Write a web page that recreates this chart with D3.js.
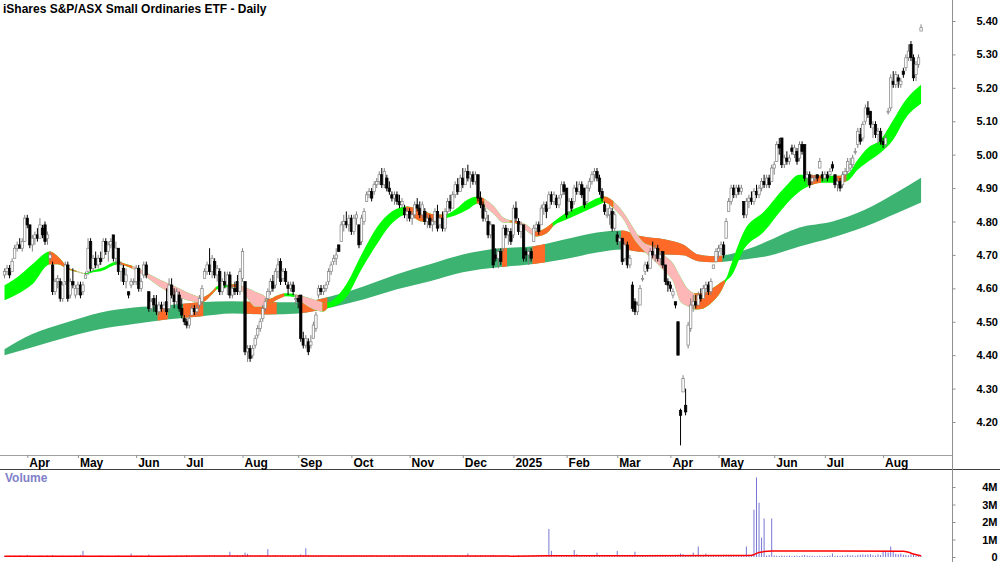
<!DOCTYPE html>
<html>
<head>
<meta charset="utf-8">
<script src="https://cdn.jsdelivr.net/npm/d3@7"></script>
<style>
  body { margin: 0; background: #fff; }
  svg { display: block; font-family: "Liberation Sans", Arial, sans-serif; }
</style>
</head>
<body>
<svg id="chart"></svg>
<script>
// month ticks (index of first trading day in month)
const monthIdx = [9, 29, 52, 71, 94, 116, 137, 160, 181, 201, 222, 242, 263, 282, 304, 324, 347];
const monthLabels = ['Apr','May','Jun','Jul','Aug','Sep','Oct','Nov','Dec','2025','Feb','Mar','Apr','May','Jun','Jul','Aug'];
const priceTicks = [5.4, 5.3, 5.2, 5.1, 5.0, 4.9, 4.8, 4.7, 4.6, 4.5, 4.4, 4.3, 4.2];
const volTicks = [0, 1e6, 2e6, 3e6, 4e6];

// daily candles [open, high, low, close]
const candles = [
[4.64,4.66,4.63,4.65],[4.65,4.67,4.64,4.66],[4.66,4.67,4.63,4.64],[4.65,4.69,4.65,4.68],[4.69,4.73,4.69,4.72],
[4.72,4.74,4.71,4.73],[4.73,4.75,4.72,4.72],[4.72,4.75,4.71,4.74],[4.74,4.82,4.74,4.81],[4.81,4.82,4.78,4.79],
[4.79,4.79,4.72,4.73],[4.73,4.76,4.71,4.75],[4.75,4.77,4.73,4.76],[4.76,4.78,4.74,4.75],[4.75,4.81,4.75,4.79],
[4.78,4.79,4.75,4.76],[4.79,4.80,4.73,4.74],[4.75,4.77,4.73,4.76],[4.69,4.71,4.68,4.70],[4.67,4.68,4.58,4.59],
[4.59,4.63,4.58,4.62],[4.62,4.64,4.60,4.63],[4.62,4.63,4.56,4.57],[4.57,4.62,4.56,4.61],[4.62,4.68,4.61,4.67],
[4.67,4.68,4.56,4.57],[4.58,4.63,4.57,4.62],[4.62,4.66,4.60,4.61],[4.58,4.61,4.57,4.60],[4.60,4.62,4.58,4.61],
[4.61,4.62,4.57,4.58],[4.59,4.62,4.58,4.61],[4.63,4.65,4.63,4.64],[4.65,4.75,4.64,4.72],[4.74,4.75,4.65,4.66],
[4.66,4.70,4.65,4.69],[4.69,4.71,4.66,4.67],[4.67,4.70,4.66,4.69],[4.69,4.71,4.67,4.68],[4.69,4.75,4.69,4.74],
[4.74,4.75,4.70,4.71],[4.71,4.74,4.68,4.73],[4.73,4.75,4.72,4.74],[4.76,4.76,4.68,4.69],[4.69,4.74,4.67,4.72],
[4.72,4.72,4.64,4.65],[4.65,4.68,4.62,4.67],[4.66,4.67,4.61,4.62],[4.62,4.66,4.60,4.64],[4.59,4.59,4.57,4.58],
[4.61,4.63,4.60,4.62],[4.62,4.63,4.61,4.62],[4.62,4.67,4.61,4.66],[4.66,4.67,4.59,4.60],[4.60,4.63,4.59,4.62],
[4.64,4.68,4.63,4.67],[4.67,4.68,4.63,4.64],[4.59,4.59,4.53,4.54],[4.54,4.57,4.53,4.56],[4.57,4.58,4.53,4.55],
[4.55,4.58,4.52,4.53],[4.53,4.56,4.52,4.55],[4.55,4.56,4.53,4.54],[4.54,4.56,4.53,4.55],[4.56,4.60,4.52,4.53],
[4.54,4.63,4.53,4.61],[4.61,4.63,4.57,4.58],[4.58,4.60,4.54,4.56],[4.56,4.60,4.55,4.59],[4.58,4.59,4.53,4.54],
[4.54,4.57,4.51,4.52],[4.51,4.52,4.49,4.50],[4.50,4.51,4.48,4.49],[4.49,4.52,4.48,4.51],[4.52,4.55,4.52,4.54],
[4.54,4.55,4.52,4.53],[4.53,4.55,4.52,4.54],[4.55,4.58,4.54,4.57],[4.56,4.61,4.55,4.60],[4.63,4.66,4.63,4.65],
[4.65,4.68,4.64,4.67],[4.67,4.72,4.64,4.65],[4.65,4.70,4.63,4.69],[4.68,4.69,4.63,4.64],[4.64,4.67,4.62,4.66],
[4.65,4.66,4.58,4.59],[4.59,4.63,4.58,4.62],[4.62,4.65,4.60,4.61],[4.61,4.65,4.58,4.64],[4.64,4.65,4.57,4.58],
[4.58,4.61,4.57,4.60],[4.60,4.62,4.58,4.59],[4.62,4.64,4.58,4.59],[4.59,4.66,4.58,4.65],[4.63,4.72,4.62,4.71],
[4.62,4.62,4.40,4.41],[4.41,4.43,4.38,4.42],[4.42,4.43,4.38,4.39],[4.40,4.43,4.39,4.42],[4.43,4.46,4.42,4.45],
[4.46,4.49,4.45,4.48],[4.48,4.51,4.47,4.50],[4.51,4.55,4.50,4.54],[4.54,4.57,4.53,4.56],[4.57,4.60,4.56,4.59],
[4.59,4.63,4.58,4.62],[4.62,4.64,4.59,4.60],[4.61,4.66,4.60,4.65],[4.65,4.69,4.63,4.67],[4.68,4.69,4.61,4.62],
[4.63,4.66,4.62,4.65],[4.65,4.66,4.61,4.62],[4.61,4.62,4.58,4.60],[4.60,4.62,4.59,4.61],[4.61,4.62,4.58,4.59],
[4.57,4.58,4.55,4.57],[4.57,4.58,4.54,4.56],[4.58,4.58,4.44,4.45],[4.45,4.47,4.42,4.43],[4.43,4.46,4.42,4.45],
[4.44,4.45,4.40,4.41],[4.43,4.46,4.42,4.44],[4.45,4.50,4.45,4.49],[4.48,4.53,4.47,4.52],[4.58,4.61,4.57,4.60],
[4.60,4.61,4.58,4.59],[4.59,4.61,4.58,4.60],[4.60,4.62,4.59,4.61],[4.62,4.66,4.61,4.65],[4.65,4.68,4.64,4.67],
[4.68,4.70,4.67,4.69],[4.69,4.72,4.67,4.70],[4.73,4.73,4.71,4.71],[4.74,4.80,4.74,4.79],[4.79,4.82,4.77,4.80],
[4.80,4.83,4.78,4.79],[4.79,4.82,4.77,4.81],[4.81,4.82,4.76,4.77],[4.77,4.82,4.76,4.81],[4.81,4.83,4.79,4.82],
[4.79,4.79,4.72,4.73],[4.74,4.82,4.73,4.81],[4.80,4.84,4.79,4.83],[4.86,4.89,4.86,4.88],[4.88,4.90,4.87,4.89],
[4.89,4.90,4.86,4.87],[4.89,4.92,4.88,4.91],[4.91,4.93,4.90,4.92],[4.92,4.95,4.91,4.94],[4.94,4.96,4.90,4.91],
[4.91,4.96,4.90,4.95],[4.93,4.94,4.89,4.90],[4.90,4.92,4.88,4.89],[4.88,4.89,4.86,4.87],[4.87,4.89,4.85,4.88],
[4.88,4.89,4.85,4.86],[4.86,4.88,4.84,4.85],[4.85,4.87,4.84,4.86],[4.84,4.85,4.81,4.82],[4.82,4.84,4.80,4.83],
[4.83,4.84,4.80,4.81],[4.81,4.83,4.79,4.82],[4.82,4.86,4.81,4.85],[4.85,4.87,4.83,4.84],[4.84,4.86,4.81,4.82],
[4.82,4.86,4.81,4.85],[4.83,4.84,4.79,4.80],[4.80,4.82,4.78,4.81],[4.81,4.82,4.78,4.79],[4.79,4.81,4.77,4.80],
[4.80,4.84,4.79,4.83],[4.83,4.85,4.77,4.78],[4.79,4.82,4.78,4.81],[4.81,4.83,4.77,4.78],[4.78,4.84,4.77,4.83],
[4.83,4.87,4.82,4.86],[4.86,4.88,4.83,4.84],[4.84,4.89,4.84,4.88],[4.88,4.92,4.87,4.91],[4.91,4.93,4.88,4.89],
[4.89,4.94,4.89,4.93],[4.93,4.96,4.90,4.91],[4.91,4.96,4.91,4.95],[4.95,4.97,4.92,4.93],[4.93,4.95,4.90,4.94],
[4.94,4.95,4.91,4.92],[4.92,4.95,4.91,4.94],[4.94,4.94,4.86,4.87],[4.87,4.89,4.84,4.85],[4.85,4.86,4.80,4.81],
[4.81,4.84,4.80,4.83],[4.80,4.82,4.75,4.76],[4.76,4.80,4.75,4.79],[4.79,4.79,4.66,4.67],[4.70,4.72,4.68,4.69],
[4.69,4.72,4.66,4.71],[4.71,4.72,4.67,4.68],[4.72,4.79,4.71,4.78],[4.78,4.79,4.75,4.76],[4.76,4.78,4.73,4.77],
[4.77,4.78,4.73,4.74],[4.76,4.85,4.75,4.84],[4.84,4.86,4.80,4.81],[4.80,4.81,4.76,4.77],[4.77,4.80,4.75,4.79],
[4.79,4.79,4.68,4.69],[4.71,4.72,4.68,4.70],[4.70,4.72,4.67,4.71],[4.71,4.72,4.68,4.69],[4.74,4.79,4.74,4.78],
[4.78,4.80,4.77,4.79],[4.79,4.80,4.76,4.77],[4.79,4.85,4.79,4.84],[4.84,4.86,4.82,4.85],[4.85,4.86,4.81,4.83],
[4.84,4.89,4.84,4.88],[4.88,4.89,4.85,4.86],[4.86,4.89,4.85,4.88],[4.87,4.88,4.84,4.85],[4.85,4.88,4.84,4.87],
[4.88,4.92,4.87,4.91],[4.91,4.92,4.88,4.89],[4.90,4.90,4.81,4.82],[4.83,4.87,4.82,4.86],[4.86,4.87,4.83,4.84],
[4.86,4.91,4.85,4.90],[4.90,4.92,4.88,4.89],[4.89,4.92,4.88,4.91],[4.91,4.92,4.87,4.88],[4.90,4.90,4.84,4.85],
[4.86,4.91,4.85,4.90],[4.90,4.93,4.89,4.92],[4.92,4.95,4.91,4.94],[4.94,4.96,4.92,4.95],[4.95,4.96,4.92,4.93],
[4.93,4.94,4.88,4.89],[4.89,4.90,4.86,4.87],[4.85,4.86,4.82,4.83],[4.82,4.84,4.81,4.82],[4.82,4.85,4.79,4.84],
[4.83,4.84,4.77,4.78],[4.78,4.83,4.77,4.82],[4.76,4.77,4.73,4.74],[4.74,4.76,4.72,4.75],[4.75,4.75,4.67,4.68],
[4.69,4.74,4.68,4.73],[4.73,4.74,4.66,4.67],[4.67,4.70,4.66,4.69],[4.61,4.62,4.53,4.54],[4.56,4.57,4.52,4.53],
[4.53,4.56,4.52,4.55],[4.55,4.61,4.55,4.60],[4.63,4.64,4.62,4.63],[4.65,4.68,4.64,4.67],[4.67,4.68,4.65,4.66],
[4.66,4.72,4.66,4.71],[4.71,4.74,4.69,4.70],[4.70,4.73,4.68,4.72],[4.72,4.73,4.68,4.69],[4.69,4.71,4.67,4.70],
[4.71,4.71,4.66,4.67],[4.67,4.67,4.61,4.62],[4.62,4.63,4.59,4.61],[4.61,4.62,4.59,4.60],[4.58,4.60,4.57,4.59],
[4.56,4.56,4.54,4.55],[4.50,4.50,4.40,4.40],[4.235,4.24,4.13,4.22],[4.29,4.34,4.29,4.33],[4.25,4.30,4.22,4.23],
[4.43,4.50,4.42,4.49],[4.48,4.57,4.47,4.55],[4.55,4.58,4.53,4.56],[4.56,4.58,4.54,4.55],[4.55,4.59,4.55,4.58],
[4.58,4.60,4.56,4.57],[4.57,4.61,4.57,4.60],[4.60,4.62,4.58,4.61],[4.61,4.62,4.58,4.59],[4.59,4.63,4.58,4.62],
[4.66,4.67,4.66,4.67],[4.68,4.72,4.68,4.71],[4.71,4.73,4.69,4.72],[4.72,4.74,4.70,4.73],[4.73,4.74,4.69,4.70],
[4.75,4.81,4.75,4.80],[4.83,4.87,4.83,4.86],[4.86,4.91,4.85,4.90],[4.90,4.91,4.87,4.88],[4.88,4.91,4.87,4.90],
[4.90,4.91,4.88,4.89],[4.89,4.91,4.88,4.90],[4.86,4.86,4.81,4.82],[4.82,4.87,4.81,4.86],[4.86,4.88,4.84,4.87],
[4.87,4.89,4.85,4.86],[4.86,4.90,4.85,4.89],[4.89,4.91,4.87,4.88],[4.88,4.91,4.87,4.90],[4.90,4.93,4.89,4.92],
[4.92,4.94,4.90,4.91],[4.91,4.94,4.90,4.93],[4.93,4.94,4.90,4.91],[4.92,4.97,4.92,4.96],[4.96,4.98,4.94,4.97],
[4.98,5.04,4.98,5.03],[5.03,5.05,5.00,5.02],[5.05,5.05,4.96,4.97],[4.97,5.00,4.96,4.99],[4.99,5.01,4.97,4.98],
[4.98,5.00,4.97,4.99],[5.02,5.03,5.00,5.01],[5.00,5.03,4.99,5.02],[5.01,5.02,4.97,4.98],[4.99,5.04,4.98,5.03],
[5.03,5.04,5.00,5.01],[5.03,5.03,4.92,4.93],[4.93,4.95,4.91,4.94],[4.94,4.95,4.90,4.91],[4.92,4.94,4.91,4.93],
[4.93,4.94,4.92,4.93],[4.94,4.94,4.92,4.93],[4.96,4.99,4.96,4.98],[4.94,4.95,4.92,4.93],[4.93,4.95,4.92,4.94],
[4.94,4.95,4.92,4.93],[4.94,4.96,4.93,4.95],[4.97,4.98,4.95,4.96],[4.94,4.94,4.90,4.91],[4.91,4.93,4.89,4.92],
[4.92,4.93,4.89,4.90],[4.91,4.95,4.90,4.94],[4.94,4.96,4.92,4.95],[4.95,4.99,4.94,4.98],[4.96,4.99,4.95,4.97],
[4.97,5.00,4.96,4.99],[5.01,5.02,5.00,5.01],[5.03,5.08,5.02,5.07],[5.06,5.08,5.03,5.04],[5.05,5.10,5.04,5.09],
[5.10,5.15,5.09,5.14],[5.14,5.16,5.11,5.12],[5.13,5.13,5.08,5.09],[5.08,5.10,5.05,5.09],[5.09,5.10,5.05,5.06],
[5.06,5.08,5.03,5.07],[5.07,5.08,5.03,5.04],[5.04,5.05,5.02,5.03],[5.03,5.06,5.02,5.05],[5.13,5.14,5.12,5.13],
[5.14,5.24,5.13,5.23],[5.22,5.25,5.20,5.21],[5.21,5.25,5.20,5.24],[5.23,5.24,5.20,5.22],[5.21,5.23,5.20,5.22],
[5.25,5.26,5.23,5.24],[5.26,5.30,5.25,5.29],[5.29,5.33,5.28,5.31],[5.33,5.34,5.28,5.29],[5.29,5.30,5.22,5.23],
[5.24,5.28,5.22,5.27],[5.27,5.30,5.26,5.29],[5.37,5.39,5.37,5.38]
];

// daily volume, thousands of units
const volumes = [
60,45,80,55,70,40,95,50,65,120,75,50,60,45,85,70,55,90,60,110,
70,55,65,80,50,60,75,45,90,65,120,350,80,60,70,55,45,65,100,70,
55,80,60,45,70,95,60,50,75,65,200,55,70,60,85,45,60,150,70,55,
65,80,50,70,60,90,55,45,75,60,80,65,110,70,55,60,85,50,70,65,
60,75,55,90,70,50,65,80,60,300,70,55,85,60,120,250,180,90,70,60,
65,80,55,70,450,60,75,90,55,65,80,60,70,50,65,85,60,150,95,500,
120,80,65,70,55,90,60,75,65,80,50,70,60,85,55,65,75,60,90,70,
80,55,65,70,60,85,50,75,65,60,70,55,80,60,90,65,55,70,60,75,
65,80,55,70,60,85,70,55,65,90,60,75,55,70,80,60,65,55,85,70,
60,75,65,200,70,55,80,60,90,65,70,55,85,120,70,60,75,65,80,55,
60,70,55,100,65,80,60,75,55,70,65,90,60,70,80,1600,350,70,60,75,
65,80,60,70,55,400,150,65,70,60,80,55,75,60,250,70,65,90,60,75,
55,70,350,80,65,70,90,60,75,300,85,70,60,75,65,80,60,70,90,65,
75,60,85,70,65,90,120,200,150,110,95,80,250,70,600,90,65,200,80,70,
60,75,65,90,70,55,80,65,75,60,85,70,100,600,80,70,2700,4550,3100,1100,
2200,80,120,2200,90,75,60,85,70,65,80,55,70,75,60,90,110,80,65,70,
55,60,75,50,65,70,80,200,60,75,65,90,70,120,85,95,70,110,130,150,
120,140,160,100,80,150,110,350,300,250,600,300,180,150,200,130,110,90,150,120,
80,100,60
];

// volume average, read at sample days (millions)
const volMaIdx = [0, 60, 120, 200, 215, 250, 292, 294, 296, 297, 298, 299, 300, 303, 320, 355, 357, 359, 361, 362];
const volMaVal = [0.04, 0.05, 0.06, 0.05, 0.07, 0.07, 0.08, 0.09, 0.13, 0.21, 0.26, 0.28, 0.31, 0.34, 0.34, 0.33, 0.27, 0.17, 0.10, 0.07];

// short-term ribbon edges, read at sample days
const shortIdx = [0,5,11,18,21,25,29,32,35,38,45,47,51,55,61,68,74,78,82,84,88,91,94,96,99,103,104,108,111,115,118,122,126,128,130,135,141,147,153,159,165,170,174,178,183,187,190,193,197,200,203,206,210,214,217,222,229,235,237,241,245,248,252,256,261,264,267,270,273,276,279,283,285,287,292,300,308,314,318,323,329,333,337,341,346,351,356,362];
const shortHi = [4.609,4.633,4.672,4.710,4.696,4.663,4.651,4.645,4.654,4.660,4.681,4.675,4.666,4.651,4.627,4.603,4.582,4.573,4.591,4.606,4.612,4.612,4.606,4.600,4.590,4.575,4.567,4.579,4.585,4.582,4.576,4.567,4.558,4.558,4.567,4.612,4.701,4.782,4.830,4.845,4.833,4.821,4.821,4.836,4.866,4.875,4.866,4.848,4.812,4.803,4.800,4.791,4.770,4.782,4.800,4.827,4.851,4.872,4.875,4.857,4.821,4.785,4.740,4.725,4.696,4.675,4.633,4.597,4.585,4.585,4.597,4.618,4.630,4.672,4.770,4.830,4.901,4.940,4.940,4.937,4.937,4.943,4.985,5.021,5.045,5.104,5.164,5.209];
const shortLo = [4.564,4.582,4.612,4.672,4.672,4.657,4.648,4.642,4.648,4.651,4.672,4.669,4.657,4.639,4.606,4.576,4.561,4.558,4.582,4.597,4.603,4.603,4.591,4.570,4.545,4.545,4.549,4.567,4.576,4.573,4.555,4.537,4.531,4.543,4.546,4.573,4.657,4.731,4.794,4.821,4.800,4.800,4.809,4.818,4.836,4.854,4.842,4.824,4.797,4.797,4.791,4.773,4.755,4.764,4.788,4.806,4.830,4.851,4.857,4.836,4.800,4.755,4.716,4.687,4.648,4.622,4.560,4.546,4.537,4.540,4.555,4.591,4.621,4.636,4.716,4.770,4.845,4.890,4.907,4.916,4.916,4.922,4.955,4.979,5.006,5.045,5.110,5.152];
const shortMixed = [[18,28],[45,50],[78,83],[90,93],[104,110],[126,127],[159,173],[187,189],[200,202],[210,216],[237,240],[273,284],[318,322],[329,332]];
const shortDown = [[29,31],[51,77],[94,103],[115,125],[190,199],[203,209],[241,272]];

// long-term ribbon edges, read at sample days
const longIdx = [0,11,25,38,51,64,77,90,104,116,129,142,155,168,181,195,208,221,234,244,250,261,268,274,280,286,293,301,314,327,340,353,362];
const longHi = [4.418,4.463,4.499,4.528,4.543,4.549,4.558,4.561,4.558,4.558,4.576,4.606,4.642,4.672,4.701,4.719,4.725,4.746,4.767,4.773,4.758,4.746,4.731,4.701,4.696,4.701,4.716,4.740,4.782,4.800,4.836,4.890,4.931];
const longLo = [4.400,4.424,4.454,4.478,4.493,4.507,4.516,4.525,4.522,4.525,4.543,4.567,4.597,4.621,4.648,4.663,4.672,4.687,4.707,4.716,4.710,4.701,4.699,4.681,4.678,4.681,4.687,4.696,4.725,4.752,4.785,4.827,4.857];
const longMixed = [[61,64],[71,78],[95,107],[117,127],[197,198],[209,213],[244,283]];

class RibbonChart {
    constructor(_config) {
        this.config = {
            parentElement: _config.parentElement,
            containerWidth: _config.containerWidth || 1000,
            containerHeight: _config.containerHeight || 562,
            axisX: 952,
            priceBottom: 455,
            volTop: 469
        }
        this.initVis();
    }

    initVis() {
        let vis = this;
        const c = vis.config;

        vis.svg = d3.select(c.parentElement)
            .attr('width', c.containerWidth)
            .attr('height', c.containerHeight);

        vis.xScale = d3.scaleLinear()
            .domain([0, candles.length - 1])
            .range([4.5, 4.5 + 2.532 * (candles.length - 1)]);

        vis.yScale = d3.scaleLinear()
            .domain([4.2, 5.4])
            .range([422, 21]);

        vis.volScale = d3.scaleLinear()
            .domain([0, 4e6])
            .range([557, 487]);

        vis.yAxis = d3.axisRight(vis.yScale)
            .tickValues(priceTicks)
            .tickFormat(d3.format('.2f'))
            .tickSize(3)
            .tickPadding(21);

        vis.volAxis = d3.axisRight(vis.volScale)
            .tickValues(volTicks)
            .tickFormat(d => d === 0 ? '0' : (d / 1e6) + 'M')
            .tickSize(3)
            .tickPadding(42);

        vis.defs = vis.svg.append('defs');
        vis.defs.append('clipPath').attr('id', 'price-clip')
            .append('rect').attr('x', 0).attr('y', 0).attr('width', c.axisX).attr('height', c.priceBottom);

        vis.priceG = vis.svg.append('g').attr('clip-path', 'url(#price-clip)');
        vis.volG = vis.svg.append('g');
        vis.frameG = vis.svg.append('g');

        vis.updateVis();
    }

    updateVis() {
        let vis = this;
        vis.longPts = longIdx.map((d, k) => ({i: d, hi: longHi[k], lo: longLo[k]}));
        vis.shortPts = shortIdx.map((d, k) => ({i: d, hi: shortHi[k], lo: shortLo[k]}));
        vis.volMaPts = volMaIdx.map((d, k) => ({i: d, v: volMaVal[k] * 1e6}));
        vis.renderVis();
    }

    drawRibbon(pts, base, layers, name) {
        let vis = this;
        const area = d3.area()
            .curve(d3.curveMonotoneX)
            .x(d => vis.xScale(d.i))
            .y0(d => vis.yScale(d.lo))
            .y1(d => vis.yScale(d.hi));
        const d = area(pts);

        vis.priceG.append('path').attr('d', d).attr('fill', base);

        layers.forEach(layer => {
            layer.ranges.forEach(([a, b], k) => {
                const id = `${name}-${layer.key}-${k}`;
                const x0 = vis.xScale(a - 0.5), x1 = vis.xScale(b + 0.5);
                vis.defs.append('clipPath').attr('id', id)
                    .append('rect').attr('x', x0).attr('y', 0).attr('width', x1 - x0).attr('height', vis.config.priceBottom);
                vis.priceG.append('path').attr('d', d).attr('fill', layer.color).attr('clip-path', `url(#${id})`);
            });
        });
    }

    renderVis() {
        let vis = this;
        const c = vis.config;
        const orange = '#ff6a28';

        // ribbons
        vis.drawRibbon(vis.longPts, '#3cb371', [{key: 'm', ranges: longMixed, color: orange}], 'long');
        vis.drawRibbon(vis.shortPts, '#00ff00', [
            {key: 'm', ranges: shortMixed, color: orange},
            {key: 'd', ranges: shortDown, color: '#ffb6b6'}
        ], 'short');

        // candles
        const bodyW = 2.4;
        const candleG = vis.priceG.selectAll('.candle')
            .data(candles)
            .join('g')
            .attr('class', 'candle');

        candleG.append('line')
            .attr('x1', (d, i) => vis.xScale(i))
            .attr('x2', (d, i) => vis.xScale(i))
            .attr('y1', d => vis.yScale(d[1]))
            .attr('y2', d => vis.yScale(d[2]))
            .attr('stroke', d => d[3] >= d[0] ? '#808080' : '#000')
            .attr('stroke-width', 1);

        candleG.append('rect')
            .attr('x', (d, i) => vis.xScale(i) - bodyW / 2)
            .attr('y', d => vis.yScale(Math.max(d[0], d[3])))
            .attr('width', bodyW)
            .attr('height', d => Math.max(1, vis.yScale(Math.min(d[0], d[3])) - vis.yScale(Math.max(d[0], d[3]))))
            .attr('fill', d => d[3] >= d[0] ? '#ffffff' : '#000')
            .attr('stroke', d => d[3] >= d[0] ? '#808080' : '#000')
            .attr('stroke-width', 0.7);

        // volume
        vis.volG.selectAll('.vol')
            .data(volumes)
            .join('line')
            .attr('class', 'vol')
            .attr('x1', (d, i) => vis.xScale(i))
            .attr('x2', (d, i) => vis.xScale(i))
            .attr('y1', vis.volScale(0))
            .attr('y2', d => vis.volScale(d * 1000))
            .attr('stroke', '#7777d4')
            .attr('stroke-width', 1);

        vis.volG.append('path')
            .datum(vis.volMaPts)
            .attr('d', d3.line().curve(d3.curveMonotoneX).x(d => vis.xScale(d.i)).y(d => vis.volScale(d.v)))
            .attr('fill', 'none')
            .attr('stroke', '#ff0000')
            .attr('stroke-width', 1.5);

        vis.volG.append('text')
            .attr('x', 5).attr('y', 482)
            .attr('fill', '#8080c8')
            .attr('font-size', 12).attr('font-weight', 'bold')
            .text('Volume');

        // frame lines
        vis.frameG.append('line')
            .attr('x1', 0).attr('x2', c.axisX).attr('y1', c.priceBottom + 0.5).attr('y2', c.priceBottom + 0.5)
            .attr('stroke', '#a0a0a0');
        vis.frameG.append('line')
            .attr('x1', 0).attr('x2', c.containerWidth).attr('y1', c.volTop + 0.5).attr('y2', c.volTop + 0.5)
            .attr('stroke', '#404040');
        vis.frameG.append('line')
            .attr('x1', c.axisX + 0.5).attr('x2', c.axisX + 0.5).attr('y1', 0).attr('y2', c.containerHeight)
            .attr('stroke', '#909090');

        // month ticks
        const monthG = vis.frameG.selectAll('.month')
            .data(monthIdx)
            .join('g')
            .attr('class', 'month')
            .attr('transform', d => `translate(${vis.xScale(d)},0)`);
        monthG.append('line')
            .attr('x1', 0.5).attr('x2', 0.5)
            .attr('y1', c.priceBottom).attr('y2', c.priceBottom + 3)
            .attr('stroke', '#909090');
        monthG.append('text')
            .attr('x', 2).attr('y', 467)
            .attr('font-size', 12).attr('font-weight', 'bold')
            .attr('fill', '#000')
            .text((d, k) => monthLabels[k]);

        // right axes
        vis.yAxisG = vis.frameG.append('g')
            .attr('class', 'axis y-axis')
            .attr('transform', `translate(${c.axisX + 0.5},0)`)
            .call(vis.yAxis);
        vis.volAxisG = vis.frameG.append('g')
            .attr('class', 'axis vol-axis')
            .attr('transform', `translate(${c.axisX + 0.5},0)`)
            .call(vis.volAxis);

        [vis.yAxisG, vis.volAxisG].forEach(g => {
            g.select('.domain').remove();
            g.selectAll('.tick line').attr('stroke', '#909090');
            g.selectAll('.tick text')
                .attr('font-size', 11).attr('font-weight', 'bold')
                .attr('font-family', '"Liberation Sans", Arial, sans-serif')
                .attr('fill', '#000');
        });
        vis.volAxisG.selectAll('.tick text').attr('text-anchor', 'end');

        // title
        vis.frameG.append('text')
            .attr('x', 3).attr('y', 13)
            .attr('font-size', 12).attr('font-weight', 'bold')
            .attr('fill', '#000')
            .text('iShares S&P/ASX Small Ordinaries ETF - Daily');
    }
}

new RibbonChart({parentElement: '#chart'});
</script>
</body>
</html>
